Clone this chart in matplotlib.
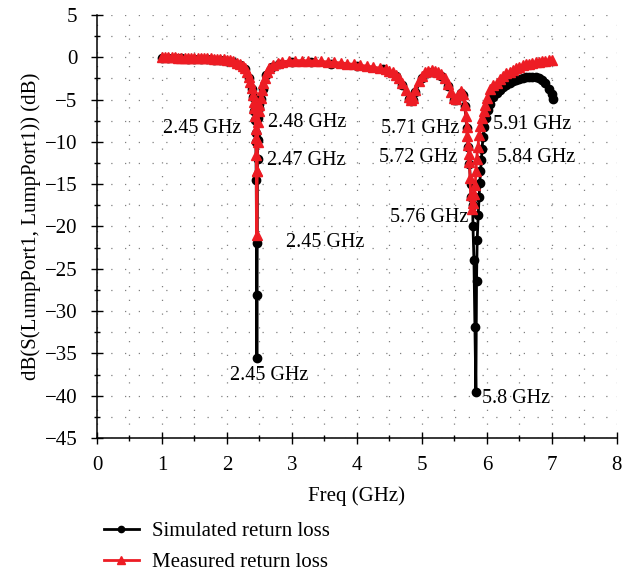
import matplotlib
matplotlib.use('Agg')
import matplotlib.pyplot as plt
from matplotlib.ticker import MultipleLocator

plt.rcParams['font.family'] = ['Liberation Serif', 'DejaVu Serif']

# ============================================================================
# DATA
# ============================================================================

# Simulated return loss (black)
sim_freq = [1.00, 1.10, 1.20, 1.30, 1.40, 1.50, 1.60, 1.70, 1.80, 1.90,
            2.00, 2.10, 2.20, 2.28, 2.34, 2.38, 2.40, 2.42, 2.43, 2.44,
            2.445, 2.45, 2.455, 2.46, 2.463, 2.47, 2.475, 2.48, 2.49, 2.50,
            2.52, 2.55, 2.60, 2.70, 2.80, 3.00, 3.30, 3.60, 4.00, 4.40,
            4.60, 4.70, 4.80, 4.83, 4.86, 4.90, 5.00, 5.15, 5.30, 5.40,
            5.50, 5.53, 5.60, 5.63, 5.66, 5.69, 5.71, 5.73, 5.75, 5.76,
            5.78, 5.785, 5.80, 5.815, 5.83, 5.84, 5.85, 5.865, 5.88, 5.89,
            5.90, 5.915, 5.925, 5.94, 5.96, 5.98, 6.01, 6.05, 6.10, 6.15,
            6.20, 6.25, 6.30, 6.35, 6.40, 6.45, 6.50, 6.55, 6.60, 6.65,
            6.70, 6.75, 6.80, 6.85, 6.90, 6.95, 7.00, 7.02]
sim_db = [-0.10, -0.10, -0.12, -0.15, -0.17, -0.19, -0.21, -0.24, -0.28, -0.33,
          -0.40, -0.60, -0.95, -1.45, -2.5, -3.7, -4.7, -6.3, -7.4, -9.0,
          -10.0, -14.5, -22.0, -35.6, -28.1, -12.0, -9.8, -7.2, -6.0, -5.5,
          -4.9, -3.7, -2.1, -1.1, -0.75, -0.55, -0.6, -0.75, -1.05, -1.45,
          -2.2, -3.3, -4.9, -5.2, -5.0, -4.1, -2.4, -1.75, -2.2, -3.4,
          -5.0, -5.1, -4.2, -4.5, -5.8, -8.4, -10.6, -12.6, -15.0, -16.5,
          -17.5, -19.9, -24.0, -31.9, -39.6, -26.4, -21.6, -18.7, -16.5, -14.9,
          -13.5, -12.2, -10.8, -9.4, -8.2, -7.2, -6.2, -5.5, -4.7, -4.2,
          -3.9, -3.5, -3.3, -3.1, -2.85, -2.7, -2.6, -2.45, -2.35, -2.3,
          -2.3, -2.35, -2.5, -2.75, -3.1, -3.7, -4.4, -4.9]

# Measured return loss (red)
meas_freq = [1.00, 1.05, 1.10, 1.15, 1.20, 1.25, 1.30, 1.35, 1.40, 1.45,
             1.50, 1.55, 1.60, 1.65, 1.70, 1.75, 1.80, 1.85, 1.90, 1.95,
             2.00, 2.05, 2.10, 2.15, 2.20, 2.25, 2.28, 2.31, 2.34, 2.36,
             2.38, 2.40, 2.41, 2.42, 2.43, 2.44, 2.445, 2.45, 2.455, 2.46,
             2.465, 2.47, 2.48, 2.49, 2.50, 2.52, 2.54, 2.56, 2.58, 2.61,
             2.65, 2.71, 2.78, 2.85, 2.95, 3.05, 3.15, 3.25, 3.35, 3.45,
             3.55, 3.65, 3.75, 3.85, 3.95, 4.05, 4.15, 4.25, 4.35, 4.45,
             4.50, 4.55, 4.60, 4.65, 4.70, 4.75, 4.80, 4.83, 4.86, 4.90,
             4.95, 5.00, 5.05, 5.10, 5.15, 5.20, 5.25, 5.30, 5.35, 5.40,
             5.45, 5.50, 5.53, 5.56, 5.60, 5.63, 5.66, 5.68, 5.69, 5.70,
             5.71, 5.72, 5.73, 5.74, 5.75, 5.765, 5.78, 5.80, 5.82, 5.83,
             5.84, 5.86, 5.88, 5.90, 5.92, 5.95, 5.97, 6.00, 6.05, 6.10,
             6.15, 6.20, 6.25, 6.30, 6.35, 6.40, 6.45, 6.50, 6.55, 6.60,
             6.65, 6.70, 6.75, 6.80, 6.85, 6.90, 6.95, 7.00]
meas_db = [0.00, 0.00, 0.00, -0.02, -0.03, -0.04, -0.05, -0.05, -0.06, -0.07,
           -0.08, -0.09, -0.10, -0.11, -0.12, -0.14, -0.16, -0.19, -0.23, -0.27,
           -0.30, -0.38, -0.50, -0.65, -0.80, -1.00, -1.30, -1.70, -2.30, -2.90,
           -3.60, -4.50, -5.30, -6.00, -7.00, -8.50, -9.60, -11.5, -13.4, -21.0,
           -13.5, -10.0, -7.6, -6.3, -5.6, -4.8, -3.9, -3.0, -2.4, -1.8,
           -1.3, -0.95, -0.70, -0.55, -0.45, -0.40, -0.40, -0.42, -0.45, -0.50,
           -0.55, -0.60, -0.67, -0.75, -0.85, -0.95, -1.05, -1.15, -1.30, -1.45,
           -1.60, -1.80, -2.10, -2.50, -3.10, -3.90, -4.70, -5.00, -4.80, -3.90,
           -2.80, -2.20, -1.80, -1.60, -1.55, -1.60, -1.80, -2.00, -2.50, -3.20,
           -4.10, -4.80, -4.90, -4.50, -4.00, -4.30, -5.60, -7.00, -8.20, -9.30,
           -10.4, -11.4, -12.4, -14.3, -16.3, -17.9, -17.2, -16.2, -15.1, -13.5,
           -12.0, -10.6, -9.2, -8.1, -7.2, -6.3, -5.7, -4.8, -3.7, -3.3,
           -3.1, -2.6, -2.2, -1.9, -1.7, -1.5, -1.3, -1.1, -0.95, -0.85,
           -0.75, -0.67, -0.60, -0.55, -0.48, -0.40, -0.35, -0.30]

# Frequency annotations: (text, x, y)
labels = ['2.45 GHz', '2.48 GHz', '2.47 GHz', '2.45 GHz', '2.45 GHz',
          '5.71 GHz', '5.72 GHz', '5.76 GHz', '5.91 GHz', '5.84 GHz', '5.8 GHz']
label_x = [1.02, 2.63, 2.62, 2.91, 2.05, 4.37, 4.34, 4.51, 6.09, 6.15, 5.92]
label_y = [-8.4, -7.7, -12.2, -21.9, -37.6, -8.4, -11.8, -18.9, -8.0, -11.8, -40.3]

# ============================================================================
# PLOT
# ============================================================================

fig = plt.figure(figsize=(6.36, 5.73), dpi=100)
ax = fig.add_axes([0.1525, 0.2356, 0.8175, 0.7384])

sim_line, = ax.plot(sim_freq, sim_db, color='black', linewidth=2.0,
                    marker='o', markersize=6, label='Simulated return loss')
meas_line, = ax.plot(meas_freq, meas_db, color='#ed1c24', linewidth=2.0,
                     marker='^', markersize=7.5, label='Measured return loss')

ax.set_xlim(0, 8)
ax.set_ylim(-45, 5)
ax.xaxis.set_major_locator(MultipleLocator(1))
ax.xaxis.set_minor_locator(MultipleLocator(0.5))
ax.yaxis.set_major_locator(MultipleLocator(5))
ax.yaxis.set_minor_locator(MultipleLocator(2.5))
ax.tick_params(which='major', direction='inout', length=8, width=1, labelsize=15)
ax.tick_params(axis='x', which='major', pad=9)
ax.tick_params(axis='y', which='major', pad=10)
ax.tick_params(which='minor', direction='inout', length=5, width=1)
ax.grid(which='both', color='#808080', linestyle=(0, (1, 10)), linewidth=0.9)
ax.set_axisbelow(True)

for side in ['top', 'right']:
    ax.spines[side].set_visible(False)
for side in ['left', 'bottom']:
    ax.spines[side].set_linewidth(1.1)

ax.set_xlabel('Freq (GHz)', fontsize=15, labelpad=8)
ax.set_ylabel('dB(S(LumpPort1, LumpPort1)) (dB)', fontsize=15, labelpad=3)

for txt, x, y in zip(labels, label_x, label_y):
    ax.text(x, y, txt, fontsize=14.5, ha='left', va='center')

fig.legend(handles=[sim_line, meas_line], loc='upper left',
           bbox_to_anchor=(0.163, 0.09), frameon=False, fontsize=15,
           handlelength=1.7, labelspacing=0.55, markerscale=0.75,
           borderaxespad=0, handletextpad=0.6, borderpad=0)

plt.savefig('out.png', dpi=100)
plt.close()
